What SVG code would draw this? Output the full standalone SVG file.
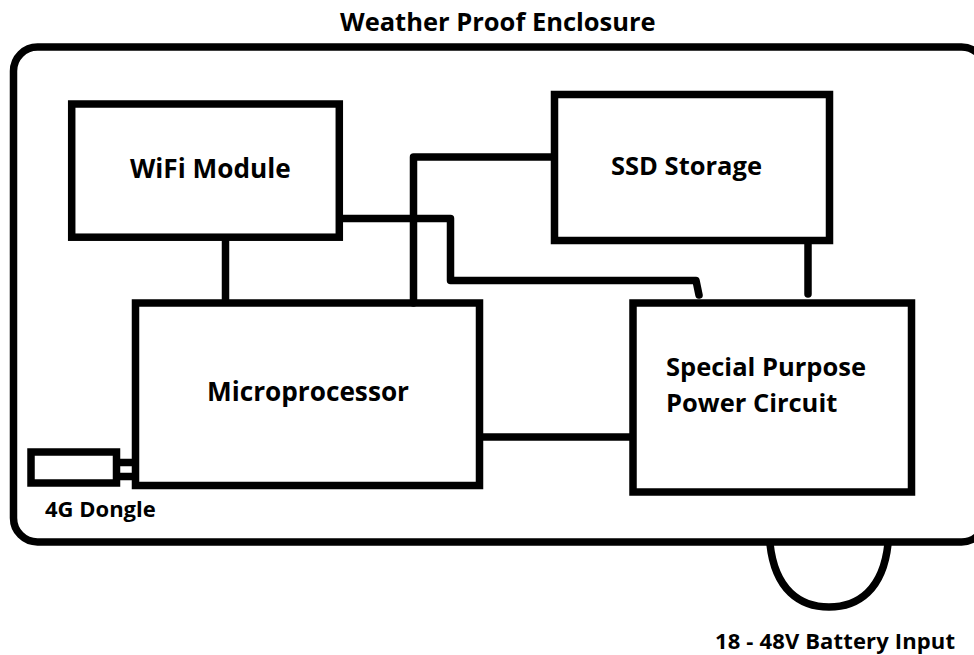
<svg xmlns="http://www.w3.org/2000/svg" width="974" height="655" viewBox="0 0 974 655">
<style>
.b{fill:none;stroke:#000;stroke-width:7.5}
.c{fill:none;stroke:#000;stroke-width:7.5;stroke-linejoin:round;stroke-linecap:round}
.f{fill:none;stroke:#000;stroke-width:7.5}
text{font-family:"Open Sans","Noto Sans",sans-serif;font-weight:700;fill:#000}
.l{font-size:25.5px}
.m{font-size:26.2px}
.s{font-size:22px}
</style>
<rect width="974" height="655" fill="#fff"/>
<g id="enclosure"><rect class="b" x="13.500" y="47" width="972" height="495" rx="24"/><text class="l" x="340" y="31">Weather Proof Enclosure</text></g>
<g id="connectors">
<path class="f" d="M225.500 238V303"/>
<path class="c" d="M413.500 303V157H554"/>
<path class="c" d="M340 218.500H450.500V280.500H696L699 295"/>
<path class="c" d="M808 241V294"/>
<path class="f" d="M480 437H633"/>
<path class="f" d="M119 462.500H135M119 476.500H135"/>
<path class="f" d="M770 544C775 590 800 607 829 607C858 607 883 590 888 544"/>
</g>
<g id="wifi"><rect class="b" x="71.700" y="104" width="267.600" height="133.200"/><text class="m" x="130" y="178">WiFi Module</text></g>
<g id="ssd"><rect class="b" x="554.500" y="94.500" width="275" height="146"/><text class="l" x="611" y="175">SSD Storage</text></g>
<g id="micro"><rect class="b" x="135.500" y="303" width="344" height="182.500"/><text class="m" x="207" y="401">Microprocessor</text></g>
<g id="power"><rect class="b" x="633" y="303" width="278.500" height="189"/><text class="l" x="666" y="376">Special Purpose</text><text class="l" x="666" y="412">Power Circuit</text></g>
<g id="dongle"><rect class="b" x="31" y="452" width="85.500" height="31"/><text class="s" x="45" y="517">4G Dongle</text></g>
<g id="battery"><text class="s" x="715" y="649" textLength="240">18 - 48V Battery Input</text></g>
</svg>
